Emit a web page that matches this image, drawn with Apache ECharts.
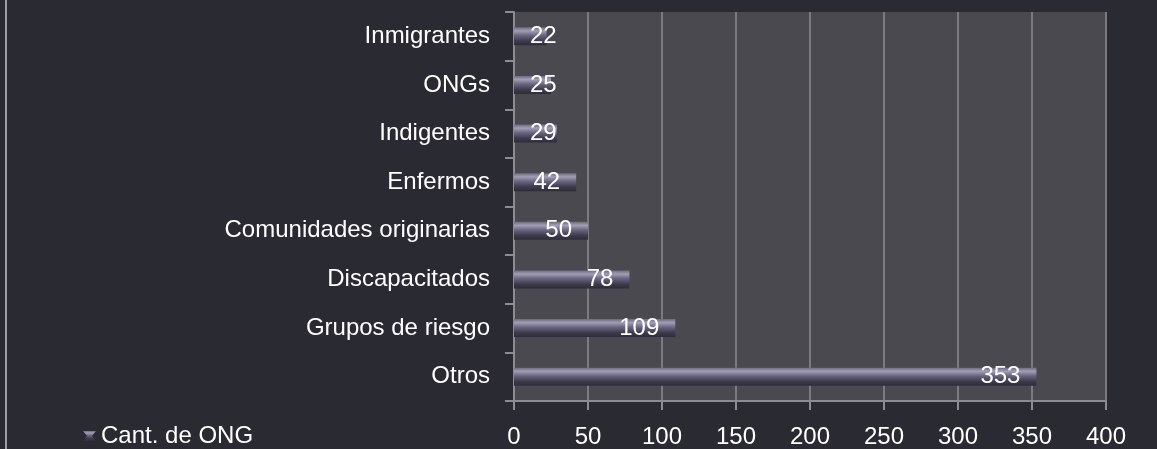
<!DOCTYPE html>
<html>
<head>
<meta charset="utf-8">
<script src="https://cdn.jsdelivr.net/npm/echarts@6/dist/echarts.min.js"></script>
<style>
  html, body { margin: 0; padding: 0; background: #2a2a33; }
  #chart { width: 1157px; height: 449px; }
</style>
</head>
<body>
<div id="chart"></div>
<script>
const categories = ['Otros', 'Grupos de riesgo', 'Discapacitados', 'Comunidades originarias', 'Enfermos', 'Indigentes', 'ONGs', 'Inmigrantes']
const values = [353, 109, 78, 50, 42, 29, 25, 22]
const seriesName = 'Cant. de ONG'

const chart = echarts.init(document.getElementById('chart'))

const barColor = new echarts.graphic.LinearGradient(0, 0, 0, 1, [
  { offset: 0, color: '#6e6a80' },
  { offset: 0.2, color: '#a29eb6' },
  { offset: 0.45, color: '#6a6680' },
  { offset: 0.75, color: '#3e3c4c' },
  { offset: 1, color: '#2e2c38' }
])

chart.setOption({
  backgroundColor: '#2a2a33',
  textStyle: { fontFamily: 'Liberation Sans, Arial, sans-serif' },
  graphic: [
    { type: 'rect', left: 5, top: 0, shape: { width: 2, height: 449 }, style: { fill: '#9c9ca2' } }
  ],
  legend: {
    left: 78,
    top: 419,
    itemWidth: 13,
    itemHeight: 10,
    itemGap: 6,
    icon: 'path://M0,0 L13,0 L9,5 L13,10 L0,10 L4,5 Z',
    textStyle: { color: '#ffffff', fontSize: 24 },
    data: [seriesName]
  },
  grid: {
    left: 514,
    right: 51,
    top: 12,
    bottom: 48,
    show: true,
    backgroundColor: '#4a4950',
    borderWidth: 0
  },
  xAxis: {
    type: 'value',
    min: 0,
    max: 400,
    interval: 50,
    axisLine: { show: true, lineStyle: { color: '#8c8c92', width: 2 } },
    axisTick: { show: true, length: 9, lineStyle: { color: '#8c8c92', width: 2 } },
    splitLine: { show: true, lineStyle: { color: '#7a7a80', width: 2 } },
    axisLabel: { color: '#ffffff', fontSize: 24, margin: 24 }
  },
  yAxis: {
    type: 'category',
    data: categories,
    axisLine: { show: true, lineStyle: { color: '#8c8c92', width: 2 } },
    axisTick: { show: true, length: 9, lineStyle: { color: '#8c8c92', width: 2 } },
    axisLabel: { color: '#ffffff', fontSize: 24, margin: 24 }
  },
  series: [
    {
      name: seriesName,
      type: 'bar',
      barWidth: 18,
      itemStyle: { color: barColor },
      label: {
        show: true,
        position: 'insideRight',
        distance: 16,
        color: '#ffffff',
        fontSize: 24
      },
      data: values.map((v) => ({
        value: v,
        label: v < 40 ? { position: 'insideLeft', distance: 16 } : {}
      }))
    }
  ]
})
</script>
</body>
</html>
